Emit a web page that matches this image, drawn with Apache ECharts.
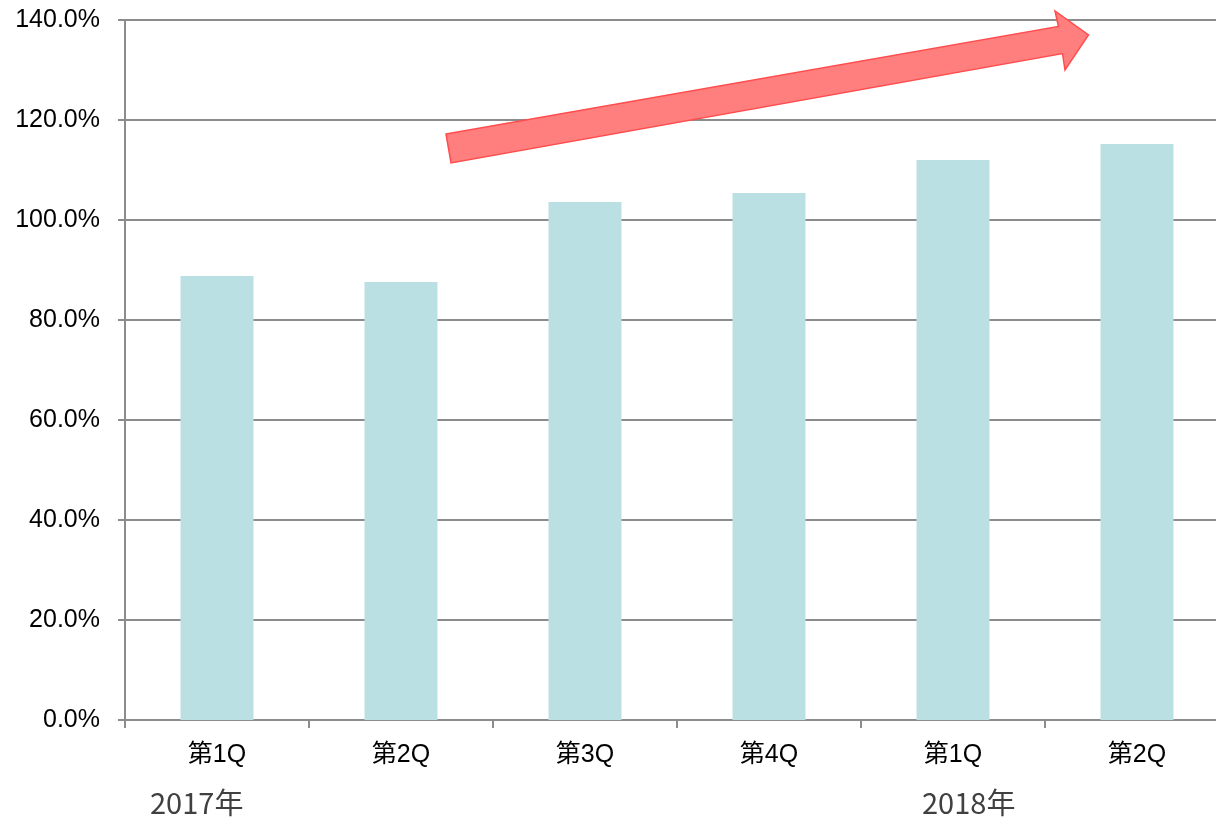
<!DOCTYPE html>
<html><head><meta charset="utf-8">
<script src="https://cdn.jsdelivr.net/npm/echarts@6/dist/echarts.min.js"></script>
<style>html,body{margin:0;padding:0;background:#fff;overflow:hidden;width:1216px;height:819px}#c{width:1240px;height:819px}</style>
</head><body><div id="c"></div>
<script>
const categories = ['第1Q','第2Q','第3Q','第4Q','第1Q','第2Q'];
const values = [88.8, 87.6, 103.6, 105.4, 112.0, 115.2];
const yearLabels = ['2017年','2018年'];
const yTicks = {min:0, max:140, interval:20};

const chart = echarts.init(document.getElementById('c'));
const gridColor = '#8c8c8c';
chart.setOption({
  animation:false,
  grid:{left:125, top:20, width:1104, height:700, containLabel:false},
  xAxis:{type:'category', data:categories,
    axisLine:{lineStyle:{color:gridColor,width:2}},
    axisTick:{show:true,length:8,lineStyle:{color:gridColor,width:2}},
    axisLabel:{color:'#000',fontSize:25,fontFamily:'Liberation Sans, Noto Sans CJK JP',margin:23}},
  yAxis:{type:'value', min:yTicks.min, max:yTicks.max, interval:yTicks.interval,
    axisLine:{show:true,lineStyle:{color:gridColor,width:2}},
    axisTick:{show:true,length:7,lineStyle:{color:gridColor,width:2}},
    splitLine:{lineStyle:{color:gridColor,width:2}},
    axisLabel:{color:'#000',fontSize:25,fontFamily:'Liberation Sans',margin:25,
      formatter:v=>v.toFixed(1)+'%'}},
  series:[{type:'bar', data:values, barWidth:73, itemStyle:{color:'#BBE0E3'}}],
  graphic:[
    {type:'polygon', z:100, shape:{points:[[446,134],[1058.5,26.5],[1055,11],[1088.5,35],[1065,70],[1062.5,53.5],[451,163]]},
     style:{fill:'#FF7F7F',stroke:'#FF4D4D',lineWidth:1.5}},
    {type:'text', left:150, top:788, style:{text:yearLabels[0],fill:'#404040',fontSize:29,fontFamily:'Noto Sans CJK JP'}},
    {type:'text', left:922, top:788, style:{text:yearLabels[1],fill:'#404040',fontSize:29,fontFamily:'Noto Sans CJK JP'}}
  ]
});
</script></body></html>
